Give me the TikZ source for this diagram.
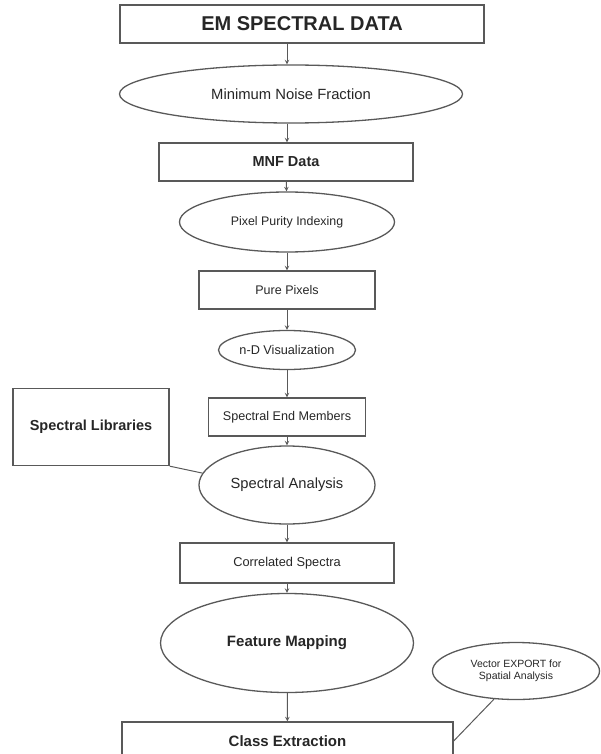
\documentclass[tikz,border=0pt]{standalone}
\usepackage{fontspec}
\setmainfont{Liberation Sans}
\usetikzlibrary{shapes.geometric}
\begin{document}
\begin{tikzpicture}[x=1pt,y=-1pt,
  every node/.style={draw=black!65,line width=1.3pt,inner sep=0pt,align=center,text=black!85},
  box/.style={rectangle},
  oval/.style={ellipse},
  link/.style={draw=black!65,line width=1pt},
  >=stealth]
\clip (0,0) rectangle (600,754);
% main column
\node[box,minimum width=364,minimum height=38,font=\fontsize{20}{24}\selectfont\bfseries] (em) at (302,24) {EM SPECTRAL DATA};
\node[oval,minimum width=343,minimum height=58,font=\fontsize{14.8}{17}\selectfont] (mnf) at (291,94) {Minimum Noise Fraction};
\node[box,minimum width=254,minimum height=38,font=\fontsize{14.5}{17}\selectfont\bfseries] (mnfd) at (286,162) {MNF Data};
\node[oval,minimum width=215,minimum height=60,font=\fontsize{12.4}{15}\selectfont] (ppi) at (287,222) {Pixel Purity Indexing};
\node[box,minimum width=176,minimum height=38,font=\fontsize{12.5}{15}\selectfont] (pure) at (287,290) {Pure Pixels};
\node[oval,minimum width=137,minimum height=39,font=\fontsize{12.7}{15}\selectfont] (ndv) at (287,350) {n-D Visualization};
\node[box,minimum width=157,minimum height=38,font=\fontsize{12.6}{15}\selectfont] (sem) at (287,417) {Spectral End Members};
\node[box,minimum width=156,minimum height=77,font=\fontsize{14.5}{17}\selectfont\bfseries] (lib) at (91,427) {Spectral Libraries};
\node[oval,minimum width=176,minimum height=78,font=\fontsize{14.7}{17}\selectfont] (sa) at (287,485) {Spectral Analysis};
\node[box,minimum width=214,minimum height=40,font=\fontsize{12.8}{15}\selectfont] (cs) at (287,563) {Correlated Spectra};
\node[oval,minimum width=253,minimum height=99,font=\fontsize{15}{18}\selectfont\bfseries] (fm) at (287,643) {Feature Mapping};
\node[box,minimum width=331,minimum height=38,font=\fontsize{15}{18}\selectfont\bfseries] (ce) at (287.5,741) {Class Extraction};
\node[oval,minimum width=167,minimum height=57,font=\fontsize{10.5}{12}\selectfont] (vec) at (516,671) {Vector EXPORT for\\Spatial Analysis};
% connectors
\draw[link,->] (em.south -| ppi) -- (mnf.north -| ppi);
\draw[link,->] (mnf.south -| ppi) -- (mnfd.north -| ppi);
\draw[link,->] (mnfd) -- (ppi);
\draw[link,->] (ppi) -- (pure);
\draw[link,->] (pure) -- (ndv);
\draw[link,->] (ndv) -- (sem);
\draw[link,->] (sem) -- (sa);
\draw[link,->] (sa) -- (cs);
\draw[link,->] (cs) -- (fm);
\draw[link,->] (fm) -- (ce);
\draw[link] (lib.south east) -- (sa.172);
\draw[link] (vec.232) -- (ce.east);
\end{tikzpicture}
\end{document}
